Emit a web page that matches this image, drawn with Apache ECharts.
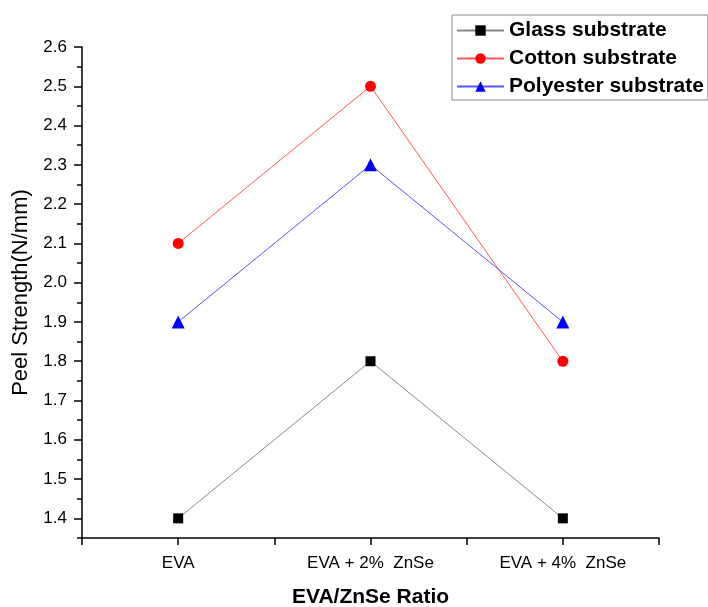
<!DOCTYPE html>
<html>
<head>
<meta charset="utf-8">
<script src="https://cdn.jsdelivr.net/npm/echarts@6/dist/echarts.min.js"></script>
<style>
  html, body { margin:0; padding:0; background:#fff; }
  #chart { width:708px; height:607px; }
</style>
</head>
<body>
<div id="chart"></div>
<script>
var categories = ["EVA", "EVA + 2%  ZnSe", "EVA + 4%  ZnSe"];
var glass = [1.4, 1.8, 1.4];
var cotton = [2.1, 2.5, 1.8];
var polyester = [1.9, 2.3, 1.9];
var majorTicks = [1.4, 1.5, 1.6, 1.7, 1.8, 1.9, 2.0, 2.1, 2.2, 2.3, 2.4, 2.5, 2.6];

var font = "Liberation Sans, Arial, sans-serif";

function pts(vals) {
  var out = [];
  for (var i = 0; i < vals.length; i++) out.push([i + 1, vals[i]]);
  return out;
}

var chart = echarts.init(document.getElementById("chart"));
chart.setOption({
  animation: false,
  grid: { left: 82, right: 49, top: 47, bottom: 69, outerBoundsMode: "none", containLabel: false },
  legend: {
    left: 452, top: 15,
    orient: "vertical",
    borderColor: "#888", borderWidth: 1,
    padding: [5, 4, 3, 4],
    itemWidth: 47, itemHeight: 13, itemGap: 7,
    textStyle: { fontFamily: font, fontSize: 21, fontWeight: "bold", color: "#000" },
    data: ["Glass substrate", "Cotton substrate", "Polyester substrate"]
  },
  xAxis: {
    type: "value", min: 0.5, max: 3.5, interval: 0.5,
    name: "EVA/ZnSe Ratio", nameLocation: "middle", nameGap: 49,
    nameTextStyle: { fontFamily: font, fontSize: 21, fontWeight: "bold", color: "#000" },
    axisLine: { lineStyle: { color: "#000", width: 1.5 } },
    axisTick: { inside: false, length: 7, lineStyle: { color: "#000", width: 1.5 } },
    axisLabel: {
      margin: 17, fontFamily: font, fontSize: 17, color: "#000",
      formatter: function (v) {
        return Math.abs(v - Math.round(v)) < 1e-6 ? (categories[Math.round(v) - 1] || "") : "";
      }
    },
    splitLine: { show: false }
  },
  yAxis: [{
    type: "value", min: 1.35, max: 2.6, interval: 0.05,
    name: "Peel Strength(N/mm)", nameLocation: "middle", nameGap: 50,
    nameTextStyle: { fontFamily: font, fontSize: 22, color: "#000" },
    axisLine: { lineStyle: { color: "#000", width: 1.5 } },
    axisTick: { length: 5, lineStyle: { color: "#000", width: 1.5 } },
    axisLabel: {
      margin: 15, fontFamily: font, fontSize: 17, color: "#000",
      formatter: function (v) {
        var k = Math.round(v * 100);
        return (k % 10 === 0 && k >= 140) ? (k / 100).toFixed(1) : "";
      }
    },
    splitLine: { show: false }
  }, {
    type: "value", min: 1.35, max: 2.6, position: "left", offset: 0,
    axisLine: { show: false },
    axisTick: { show: true, length: 8, customValues: majorTicks, lineStyle: { color: "#000", width: 1.5 } },
    axisLabel: { show: false },
    splitLine: { show: false }
  }],
  series: [{
    name: "Glass substrate", type: "line", data: pts(glass),
    symbol: "rect", symbolSize: 10,
    itemStyle: { color: "#000" },
    lineStyle: { color: "#888", width: 1 }
  }, {
    name: "Cotton substrate", type: "line", data: pts(cotton),
    symbol: "circle", symbolSize: 11,
    itemStyle: { color: "#ff0000" },
    lineStyle: { color: "#ff5555", width: 1 }
  }, {
    name: "Polyester substrate", type: "line", data: pts(polyester),
    symbol: "triangle", symbolSize: 13,
    itemStyle: { color: "#0000ff" },
    lineStyle: { color: "#5555ff", width: 1 }
  }]
});
</script>
</body>
</html>
